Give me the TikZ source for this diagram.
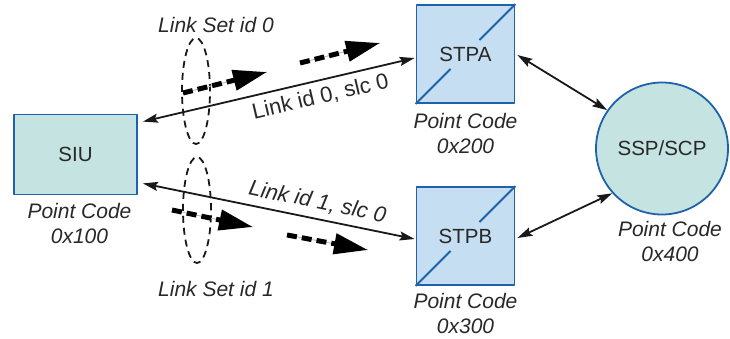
\documentclass[tikz,border=0pt]{standalone}
\usepackage{fontspec}
\setmainfont{Liberation Sans}
\usetikzlibrary{arrows.meta, shapes.geometric, positioning, calc}
\definecolor{siuteal}{RGB}{197,227,224}
\definecolor{stpblue}{RGB}{197,222,242}
\definecolor{edgeblue}{RGB}{30,98,170}
\definecolor{inkgray}{RGB}{40,40,40}

\begin{document}
\begin{tikzpicture}[x=1pt, y=-1pt, line join=round,
    every node/.style={text=inkgray},
    netbox/.style={draw=edgeblue, line width=1.8pt, inner sep=0pt, font=\fontsize{20.5}{24}\selectfont},
    pclabel/.style={align=center, inner sep=0pt, font=\fontsize{21}{25}\selectfont\itshape},
    link/.style={draw=black!90, line width=1.8pt, {Stealth[length=15pt,width=9pt,inset=2.5pt]}-{Stealth[length=15pt,width=9pt,inset=2.5pt]}},
    linkset/.style={draw=black!90, line width=1.8pt, dash pattern=on 7pt off 5pt, ellipse, minimum width=28pt, minimum height=106pt, inner sep=0pt},
    flow/.style={line width=5pt, dash pattern=on 10pt off 5pt, -{Triangle[length=34pt,width=20pt]}}
]
        \useasboundingbox (0,0) rectangle (730,339);

        % Network elements
        \node[netbox, fill=siuteal, minimum width=123pt, minimum height=80pt] (siu) at (75.5,154.5) {SIU};
        \node[netbox, fill=stpblue, minimum size=98pt] (stpa) at (465.5,54) {STPA};
        \node[netbox, fill=stpblue, minimum size=98pt] (stpb) at (465.5,236) {STPB};
        \node[netbox, circle, fill=siuteal, minimum size=132pt] (ssp) at (662,148.5) {SSP/SCP};

        % Diagonals (STP boxes)
        \foreach \stp in {stpa, stpb} {
            \draw[edgeblue, line width=1.8pt] (\stp.south west) -- ($(\stp.south west)!0.35!(\stp.north east)$);
            \draw[edgeblue, line width=1.8pt] ($(\stp.south west)!0.64!(\stp.north east)$) -- (\stp.north east);
        }

        % Point codes
        \node[pclabel, below=8pt of siu, xshift=4pt] (siupc) {Point Code\\0x100};
        \node[pclabel, below=9pt of stpa] (stpapc) {Point Code\\0x200};
        \node[pclabel, below=7pt of stpb] (stpbpc) {Point Code\\0x300};
        \node[pclabel, below=6pt of ssp, xshift=8pt] (ssppc) {Point Code\\0x400};

        % Link sets
        \node[linkset] (ls0) at (196,91) {};
        \node[linkset] (ls1) at (197,210) {};
        \node[pclabel] (ls0lbl) at (216,25) {Link Set id 0};
        \node[pclabel] (ls1lbl) at (216,289) {Link Set id 1};

        % Links
        \draw[link] ([shift={(5,8)}]siu.north east) -- node[pos=0.64, sloped, below=3pt, font=\fontsize{22}{26}\selectfont] (lk0) {Link id 0, slc 0} ([shift={(-1,4)}]stpa.west);
        \draw[link] ([shift={(5,-12)}]siu.south east) -- node[pos=0.63, sloped, above=3pt, font=\fontsize{22}{26}\selectfont\itshape] (lk1) {Link id 1, slc 0} ([shift={(-1,3)}]stpb.west);
        \draw[link] ([shift={(2,1)}]stpa.east) -- (ssp.145);
        \draw[link] ([shift={(2,2)}]stpb.east) -- (ssp.222);

        % Traffic (dashed arrows)
        \foreach \i/\xa/\ya/\xb/\yb in {0/183/93/267/72, 1/300/63/380/43, 2/172/210/253/227, 3/287/235/368/250} {
            \coordinate (fs\i) at (\xa,\ya);
            \coordinate (fe\i) at (\xb,\yb);
            \draw[black!25, line width=1pt] (fs\i) -- (fe\i);
            \draw[flow] (fs\i) -- (fe\i);
        }
    \end{tikzpicture}
\end{document}
